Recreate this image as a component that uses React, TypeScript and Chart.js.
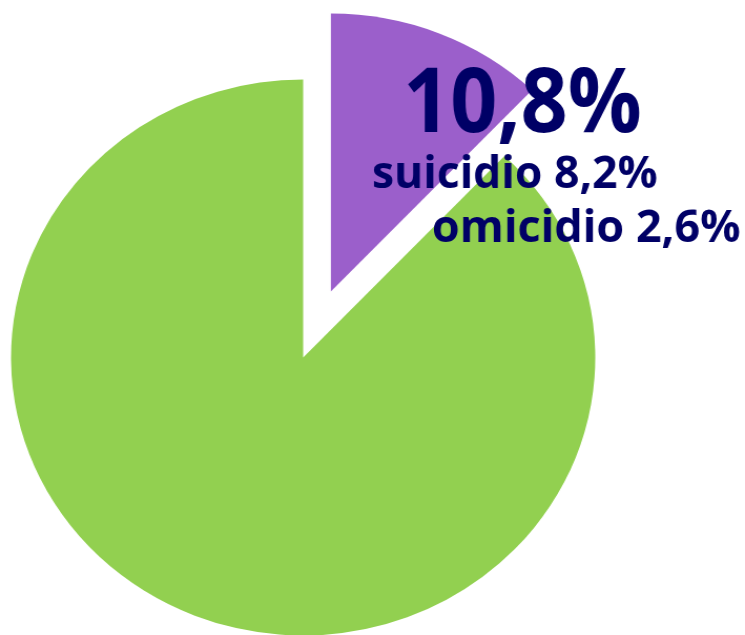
import { useEffect, useRef } from "react";
import { Chart, registerables } from "chart.js";

Chart.register(...registerables);

// ---- data ----
const categories = ["morte violenta", "altre cause"];
const values = [12.1, 87.9];
const colors = ["#9B5FCB", "#92D050"];
const explodeBy = [71, 0];
const headline = "10,8%";
const detailLines = ["suicidio 8,2%", "omicidio 2,6%"];

// ---- layout (screen px); the canvas is stretched horizontally by SX ----
const SX = 1.051;
const CW = 709;
const CH = 635;
const TEXT_COLOR = "#000066";
const FONT = '"Open Sans", "Noto Sans", sans-serif';

type TextSpec = { text: string; left: number; right: number; baseline: number; size: number };

const textSpecs: TextSpec[] = [
  { text: headline, left: 408, right: 640, baseline: 132, size: 90 },
  { text: detailLines[0], left: 373, right: 657, baseline: 188, size: 44 },
  { text: detailLines[1], left: 433, right: 740, baseline: 242, size: 44 },
];

// Explode slices by moving each arc's centre along its mid angle
// (avoids Chart.js' built-in offset, which also enlarges the arc radius).
const explodePlugin = {
  id: "explodeSlices",
  afterDatasetUpdate(chart: any, args: any) {
    const meta = chart.getDatasetMeta(args.index);
    meta.data.forEach((arc: any, i: number) => {
      const d = explodeBy[i] || 0;
      if (!d) return;
      const mid = (arc.startAngle + arc.endAngle) / 2;
      arc.x += Math.cos(mid) * d;
      arc.y += Math.sin(mid) * d;
    });
  },
};

const textPlugin = {
  id: "labelsText",
  afterDraw(chart: any) {
    const ctx = chart.ctx as CanvasRenderingContext2D;
    for (const s of textSpecs) {
      ctx.save();
      ctx.font = `bold ${s.size}px ${FONT}`;
      ctx.textAlign = "left";
      ctx.textBaseline = "alphabetic";
      ctx.fillStyle = TEXT_COLOR;
      const m = ctx.measureText(s.text);
      const ink = m.actualBoundingBoxLeft + m.actualBoundingBoxRight;
      const target = (s.right - s.left) / SX;
      const k = target / ink;
      ctx.translate(s.left / SX, s.baseline);
      ctx.scale(k, 1);
      ctx.fillText(s.text, m.actualBoundingBoxLeft, 0);
      ctx.restore();
    }
  },
};

export default function App() {
  const ref = useRef<HTMLCanvasElement | null>(null);

  useEffect(() => {
    if (!ref.current) return;
    const chart = new Chart(ref.current, {
      type: "pie",
      data: {
        labels: categories,
        datasets: [
          {
            data: values,
            backgroundColor: colors,
            borderWidth: 0,
            hoverOffset: 0,
          },
        ],
      },
      options: {
        responsive: false,
        animation: false,
        events: [],
        devicePixelRatio: 1,
        radius: 278,
        layout: { padding: { top: 80, left: 0, right: 132, bottom: 0 } },
        plugins: {
          legend: { display: false },
          tooltip: { enabled: false },
        },
      } as any,
      plugins: [explodePlugin, textPlugin],
    });
    return () => chart.destroy();
  }, []);

  return (
    <div style={{ position: "fixed", left: 0, top: 0, width: 745, height: 635, background: "#fff" }}>
      <canvas
        ref={ref}
        width={CW}
        height={CH}
        style={{ width: "745px", height: "635px", display: "block" }}
      />
    </div>
  );
}
